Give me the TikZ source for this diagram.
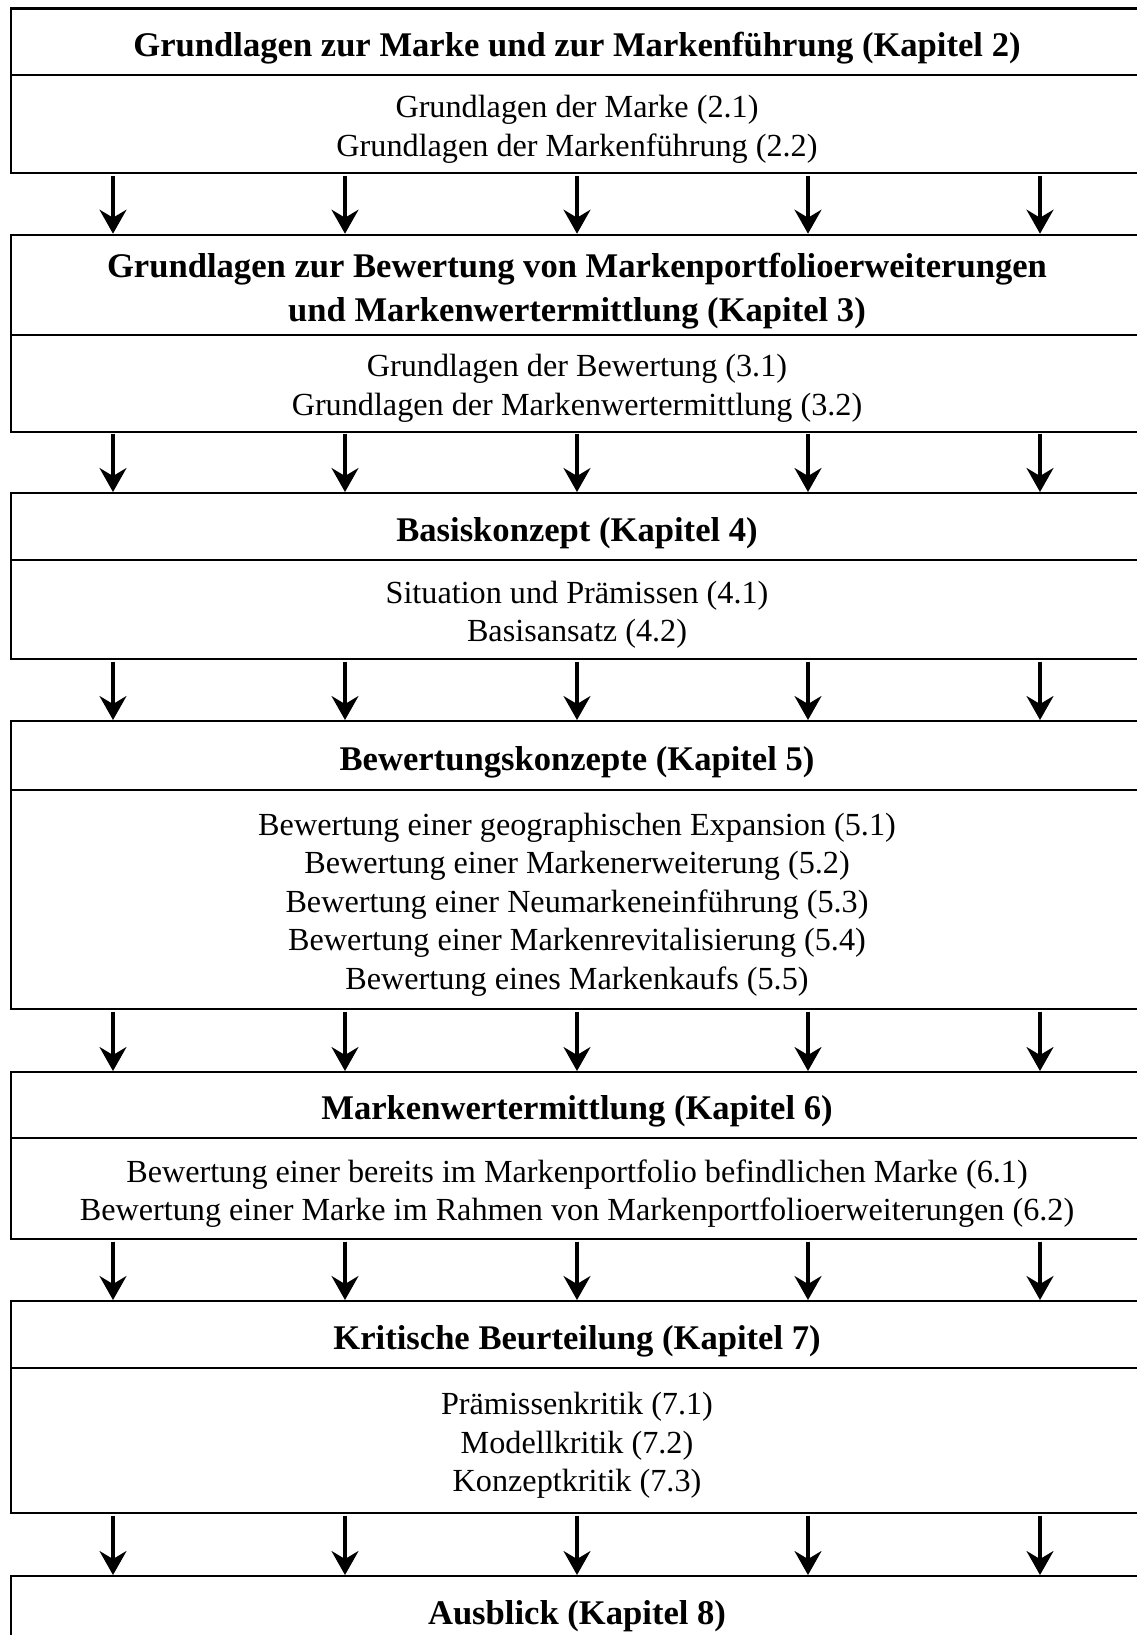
\documentclass[tikz,border=0pt]{standalone}
\usepackage{fontspec}
\setmainfont{Liberation Serif}
\usetikzlibrary{arrows.meta}
\newcommand{\myup}{\rule{0pt}{1.05em}}
\newcommand{\mydn}{\rule{0pt}{1em}}
\tikzset{
  hdr/.style={draw, line width=2.4pt, minimum width=1132pt, inner sep=0pt, anchor=north, align=center,
    font=\fontsize{34.6}{43.8}\selectfont\bfseries},
  bdy/.style={draw, line width=2.4pt, minimum width=1132pt, inner sep=0pt, anchor=north, align=center,
    font=\fontsize{32.2}{38.4}\selectfont},
  arr/.style={line width=3.2pt, -{Stealth[length=24pt, width=27pt, inset=8pt]}, shorten <=1.2pt},
}
\begin{document}
\begin{tikzpicture}[x=1pt, y=-1pt]
\useasboundingbox (0,0) rectangle (1137,1635);
\clip (0,0) rectangle (1137,1635);
\foreach \i/\x in {1/113, 2/345, 3/577, 4/808, 5/1040} {\coordinate (c\i) at (\x,0);}
% Box 1
\node[hdr, minimum height=66.7pt] (h1) at (577,7.3) {\myup Grundlagen zur Marke und zur Markenführung (Kapitel 2)};
\node[bdy, minimum height=98pt] (b1) at (577,74) {\mydn Grundlagen der Marke (2.1)\\Grundlagen der Markenführung (2.2)};
% Box 2
\node[hdr, minimum height=100pt] (h2) at (577,233.7) {\myup Grundlagen zur Bewertung von Markenportfolioerweiterungen\\und Markenwertermittlung (Kapitel 3)};
\node[bdy, minimum height=97pt] (b2) at (577,333.8) {\mydn Grundlagen der Bewertung (3.1)\\Grundlagen der Markenwertermittlung (3.2)};
% Box 3
\node[hdr, minimum height=67pt] (h3) at (577,492) {\myup Basiskonzept (Kapitel 4)};
\node[bdy, minimum height=99pt] (b3) at (577,559) {\mydn Situation und Prämissen (4.1)\\Basisansatz (4.2)};
% Box 4
\node[hdr, minimum height=69pt] (h4) at (577,720) {\myup Bewertungskonzepte (Kapitel 5)};
\node[bdy, minimum height=219pt] (b4) at (577,789) {\mydn Bewertung einer geographischen Expansion (5.1)\\Bewertung einer Markenerweiterung (5.2)\\Bewertung einer Neumarkeneinführung (5.3)\\Bewertung einer Markenrevitalisierung (5.4)\\Bewertung eines Markenkaufs (5.5)};
% Box 5
\node[hdr, minimum height=66pt] (h5) at (577,1071) {\myup Markenwertermittlung (Kapitel 6)};
\node[bdy, minimum height=101pt] (b5) at (577,1137) {\mydn Bewertung einer bereits im Markenportfolio befindlichen Marke (6.1)\\Bewertung einer Marke im Rahmen von Markenportfolioerweiterungen (6.2)};
% Box 6
\node[hdr, minimum height=67pt] (h6) at (577,1300) {\myup Kritische Beurteilung (Kapitel 7)};
\node[bdy, minimum height=145pt] (b6) at (577,1367) {\mydn Prämissenkritik (7.1)\\Modellkritik (7.2)\\Konzeptkritik (7.3)};
% Box 7
\node[hdr, minimum height=67pt] (h7) at (577,1575) {\myup Ausblick (Kapitel 8)};
% Arrows
\foreach \a/\b in {b1/h2, b2/h3, b3/h4, b4/h5, b5/h6, b6/h7} {
  \foreach \i in {1,...,5} {
    \draw[arr] (\a.south -| c\i) -- (\b.north -| c\i);
  }
}
\end{tikzpicture}
\end{document}
